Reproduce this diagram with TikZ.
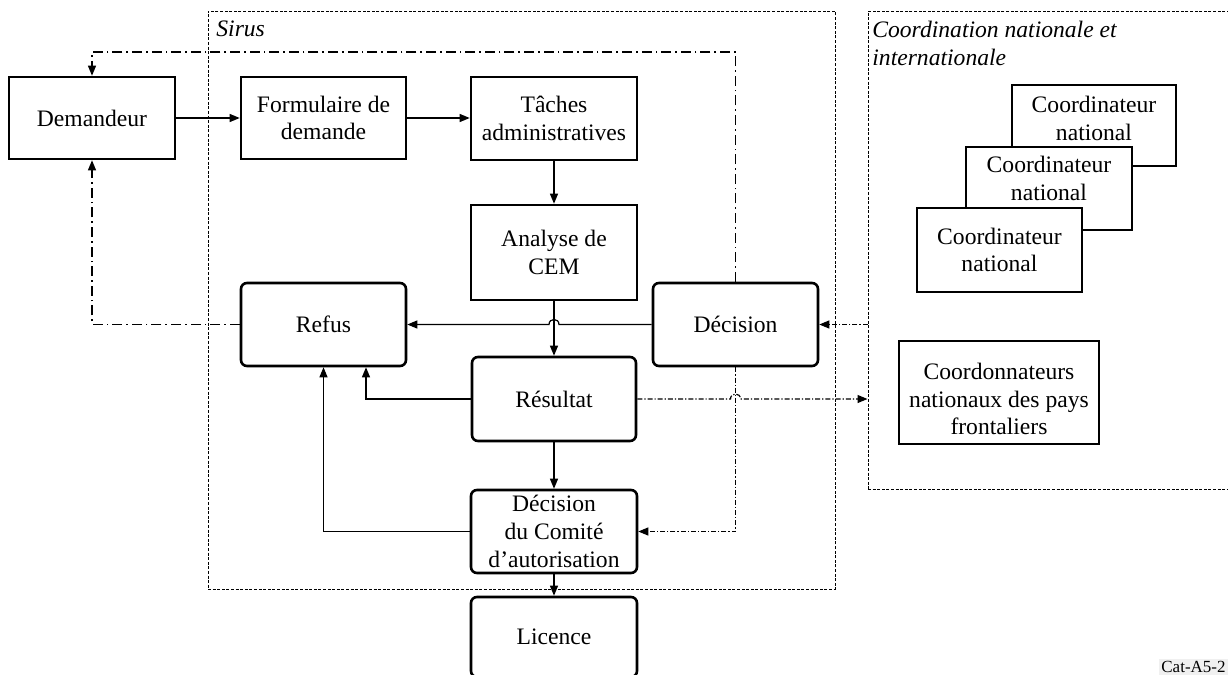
\documentclass[tikz,border=0pt]{standalone}
\usepackage{fontspec}
\setmainfont{Liberation Serif}
\usetikzlibrary{arrows.meta,calc}
\newcommand\diafont{\fontsize{11.8pt}{13.8pt}\selectfont}
\begin{document}
\begin{tikzpicture}[x=0.5pt,y=-0.5pt,
  box/.style={draw, line width=1.3pt, fill=white, align=center, inner sep=1pt, font=\diafont},
  rbox/.style={box, rounded corners=3pt},
  grp/.style={draw, line width=0.5pt, dash pattern=on 1.5pt off 0.8pt},
  conn/.style={line width=0.6pt, -{Triangle[length=5pt,width=4pt]}},
  ddot/.style={dash pattern=on 5pt off 2pt on 0.8pt off 2pt},
  fdot/.style={dash pattern=on 2.5pt off 1pt on 0.6pt off 1pt},
  lbl/.style={inner sep=0pt, font=\diafont\itshape, align=left}]
\useasboundingbox (0,0) rectangle (1228,675);
\clip (0,0) rectangle (1228,675);

% grouping frames
\node[grp, minimum width=313.5pt, minimum height=289pt] (sirus) at (521.5,300) {};
\node[lbl, anchor=north west] (sirusl) at (216,20) {Sirus};
\node[grp, minimum width=186pt, minimum height=239pt] (cnat) at (1054,250) {};
\node[lbl, anchor=north west] (cnatl) at (872,21) {Coordination nationale et\\internationale};

% process boxes
\node[box, minimum width=83pt, minimum height=41pt] (dem) at (92,118) {Demandeur};
\node[box, minimum width=82.5pt, minimum height=41pt] (form) at (323.5,118) {Formulaire de\\demande};
\node[box, minimum width=83pt, minimum height=41.5pt] (tach) at (554,118.5) {Tâches\\administratives};
\node[box, minimum width=83pt, minimum height=47.5pt] (cem) at (554,252.5) {Analyse de\\CEM};
\node[rbox, minimum width=82.5pt, minimum height=41.5pt] (ref) at (323.5,324.5) {Refus};
\node[rbox, minimum width=82.5pt, minimum height=41.5pt] (dec) at (735.5,324.5) {Décision};
\node[rbox, minimum width=82pt, minimum height=42pt] (res) at (554,399) {Résultat};
\node[rbox, minimum width=83pt, minimum height=41.5pt] (com) at (554,531.5) {Décision\\du Comité\\d’autorisation};
\node[rbox, minimum width=83pt, minimum height=40pt] (lic) at (554,637) {Licence};

% coordinators, back to front
\node[box, minimum width=82pt, minimum height=40.5pt] (c3) at (1094,125.5) {Coordinateur\\national\rule[-7pt]{0pt}{7pt}};
\node[box, minimum width=83pt, minimum height=41.5pt] (c2) at (1049,188.5) {Coordinateur\\national\rule[-10pt]{0pt}{10pt}};
\node[box, minimum width=82.5pt, minimum height=42pt] (c1) at (999.5,250) {Coordinateur\\national};
\node[box, minimum width=100pt, minimum height=51.5pt] (cfr) at (999,392.5) {\rule{0pt}{15pt}Coordonnateurs\\nationaux des pays\\frontaliers};

\node[anchor=south east, fill=gray!12, inner sep=1pt, font=\fontsize{8.5pt}{10pt}\selectfont] (cat) at (1228,675) {Cat-A5-2};

% main flow
\draw[conn] (dem.east) -- (form.west);
\draw[conn] (form.east) -- (form.east -| tach.west);
\draw[conn] (tach) -- (cem);
\draw[conn] (cem) -- (res);
\draw[conn] (res) -- (com);
\draw[conn] (com) -- (lic);

% refusals
\draw[conn] (dec.west) -- (559,324.5) .. controls (559,317.8) and (549,317.8) .. (549,324.5) -- (ref.east);
\draw[conn] (res.west) -| ([xshift=21.25pt]ref.south);
\draw[conn] (com.west) -| (ref.south);

% feedback to the applicant
\coordinate (top) at (0,52);
\draw[conn,ddot] (ref.west) -| (dem.south);
\draw[conn,ddot] (dec.north) -- (dec.north |- top) -| (dem.north);

% coordination exchanges
\draw[conn,fdot] (dec.south) |- (com.east);
\draw[conn,fdot] (res.east) -- (730.5,399) .. controls (730.5,392.3) and (740.5,392.3) .. (740.5,399) -- (res.east -| cnat.west);
\draw[conn,fdot] (dec.east -| cnat.west) -- (dec.east);
\end{tikzpicture}
\end{document}
